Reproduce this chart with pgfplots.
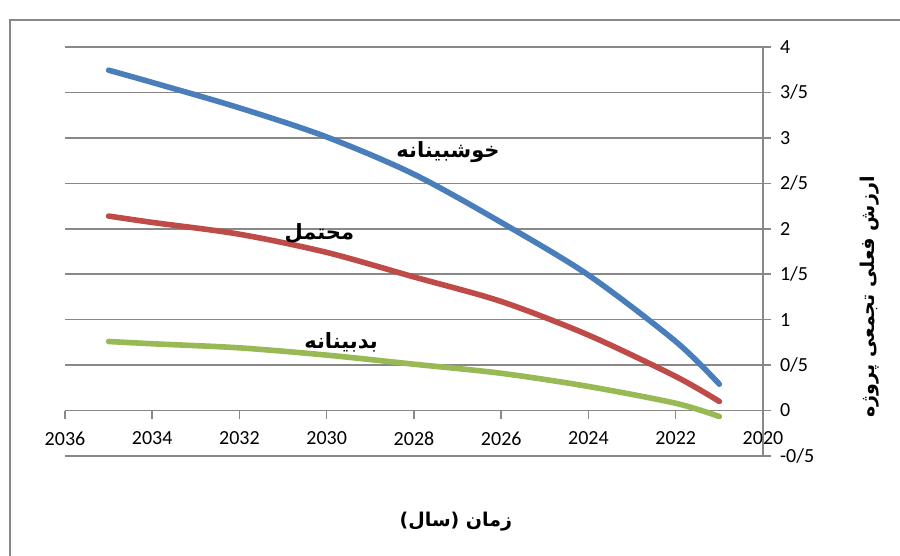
\documentclass[border=0pt]{standalone}
\usepackage{fontspec}
\setmainfont{Carlito}
\newfontfamily\fa[Script=Arabic]{DejaVu Sans}
\TeXXeTstate=1
\usepackage{pgfplots}
\pgfplotsset{compat=1.18}

\definecolor{cblue}{HTML}{4A7EBB}
\definecolor{cred}{HTML}{BE4B48}
\definecolor{cgreen}{HTML}{98B954}
\definecolor{cgrid}{HTML}{888888}

\begin{document}
\begin{tikzpicture}
\begin{axis}[
    at={(0pt,0pt)}, anchor=south west,
    scale only axis, width=349pt, height=204.5pt,
    xmin=2020, xmax=2036, x dir=reverse,
    ymin=-0.5, ymax=4,
    axis x line=middle, axis y line=right,
    hide obscured x ticks=false,
    axis line style={cgrid, line width=0.75pt, -},
    tick align=outside, major tick length=4pt,
    tick style={cgrid, line width=0.75pt},
    ymajorgrids, grid style={cgrid, line width=0.75pt},
    xtick={2020,2022,...,2036},
    xticklabels={2020,2022,2024,2026,2028,2030,2032,2034,2036},
    ytick={-0.5,0,0.5,1,1.5,2,2.5,3,3.5,4},
    yticklabels={-0/5,0,0/5,1,1/5,2,2/5,3,3/5,4},
    xticklabel style={font=\fontsize{10}{12}\selectfont, yshift=-3pt},
    yticklabel style={font=\fontsize{10}{12}\selectfont, xshift=1pt, anchor=west},
    every axis x label/.style={at={(rel axis cs:0.56,-0.161)}, anchor=center},
    every axis y label/.style={at={(rel axis cs:1.153,0.389)}, rotate=90, anchor=center},
    xlabel={\fa\bfseries\fontsize{9.5}{11}\selectfont\beginR زمان (سال)\endR},
    ylabel={\fa\bfseries\fontsize{9.5}{11}\selectfont\beginR ارزش فعلی تجمعی پروژه\endR},
    clip=false,
]
\addplot[cblue, line width=2.8pt, smooth, tension=0.5, line cap=round] coordinates {
  (2035,3.745) (2034,3.61) (2032,3.33) (2030,3.01) (2028,2.60)
  (2026,2.07) (2024,1.49) (2022,0.76) (2021,0.29)};
\addplot[cred, line width=2.8pt, smooth, tension=0.5, line cap=round] coordinates {
  (2035,2.14) (2034,2.07) (2032,1.94) (2030,1.74) (2028,1.47)
  (2026,1.20) (2024,0.83) (2022,0.375) (2021,0.10)};
\addplot[cgreen, line width=2.8pt, smooth, tension=0.5, line cap=round] coordinates {
  (2035,0.76) (2034,0.735) (2032,0.69) (2030,0.61) (2028,0.51)
  (2026,0.41) (2024,0.265) (2022,0.08) (2021,-0.066)};
\node[font=\fa\bfseries\fontsize{10.5}{12}\selectfont] at (axis cs:2027.22,2.84) {\beginR خوشبینانه\endR};
\node[font=\fa\bfseries\fontsize{10.5}{12}\selectfont] at (axis cs:2030.17,1.95) {\beginR محتمل\endR};
\node[font=\fa\bfseries\fontsize{10.5}{12}\selectfont] at (axis cs:2029.67,0.755) {\beginR بدبینانه\endR};
\coordinate (O) at (rel axis cs:0,0);
\end{axis}
\draw[cgrid, line width=0.75pt] ([shift={(-27.5pt,-80pt)}]O) rectangle ([shift={(480pt,218pt)}]O);
\pgfresetboundingbox
\path[use as bounding box] ([shift={(-32.5pt,-50pt)}]O) rectangle ([shift={(417.5pt,228pt)}]O);
\end{tikzpicture}
\end{document}
